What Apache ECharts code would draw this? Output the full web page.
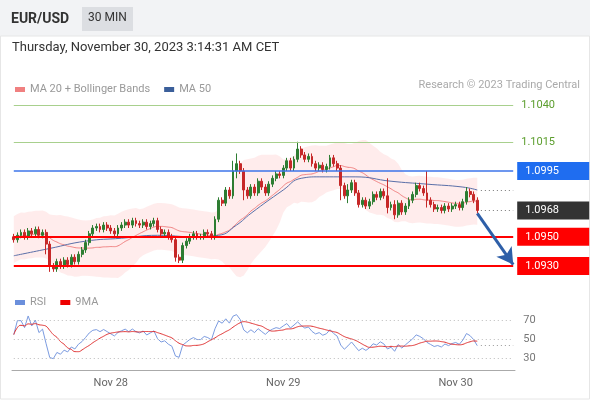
<!DOCTYPE html>
<html><head><meta charset="utf-8">
<script src="https://cdn.jsdelivr.net/npm/echarts@6/dist/echarts.min.js"></script>
<style>html,body{margin:0;padding:0;background:#fff}#c{width:590px;height:400px}</style>
</head><body><div id="c"></div>
<script>
const closes = [1.0948,1.0951,1.0953,1.0950,1.0954,1.0952,1.0955,1.0951,1.0953,1.0945,
1.0930,1.0928,1.0933,1.0930,1.0934,1.0931,1.0936,1.0933,1.0938,1.0941,
1.0946,1.0952,1.0956,1.0957,1.0955,1.0958,1.0956,1.0954,1.0952,1.0956,
1.0958,1.0960,1.0958,1.0961,1.0959,1.0958,1.0960,1.0957,1.0959,1.0961,
1.0955,1.0952,1.0953,1.0950,1.0948,1.0936,1.0934,1.0944,1.0947,1.0950,
1.0952,1.0950,1.0950,1.0953,1.0952,1.0950,1.0962,1.0975,1.0973,1.0982,
1.0978,1.0995,1.1000,1.0995,1.0982,1.0978,1.0984,1.0980,1.0988,1.0984,
1.0980,1.0986,1.0990,1.0993,1.0992,1.0997,1.1002,1.0997,1.1003,1.1010,
1.1006,1.1003,1.1005,1.1000,1.0997,1.0999,1.0996,1.0998,1.1004,1.1000,
1.0997,1.0985,1.0978,1.0982,1.0987,1.0980,1.0972,1.0975,1.0971,1.0974,
1.0979,1.0977,1.0981,1.0978,1.0970,1.0972,1.0965,1.0973,1.0967,1.0971,
1.0975,1.0979,1.0985,1.0983,1.0980,1.0975,1.0972,1.0969,1.0970,1.0968,
1.0971,1.0969,1.0971,1.0972,1.0970,1.0974,1.0981,1.0979,1.0975,1.0968];
const firstOpen = 1.0950;
const longWicks = {9:[1.0938,1.0954],10:[1.0926,1.0946],45:[1.0933,1.0949],47:[1.0933,1.0946],61:[1.0980,1.1002],62:[1.0990,1.1007],64:[1.0975,1.0997],79:[1.1002,1.1015],91:[1.0975,1.0999],93:[1.0973,1.0986],104:[1.0966,1.0990],106:[1.0962,1.0975],115:[1.0970,1.0995],126:[1.0972,1.0984]};
const ma50Points = {0:1.0937,10:1.0942,20:1.0947,30:1.0949,40:1.0951,50:1.0950,57:1.0951,62:1.0958,66:1.0966,75:1.0982,80:1.0990,85:1.0991,95:1.0991,105:1.0988,115:1.0986,125:1.0984,129:1.0982};
const levelsGreen = [1.1040,1.1015];
const levelsBlue = [1.0995];
const levelsRed = [1.0950,1.0930];
const rsiTicks = [30,50,70];
const lastPrice = 1.0968, ma50Last = 1.0982, target = 1.0931;
const xLabels = {27:'Nov 28',75:'Nov 29',123:'Nov 30'};
const NCAT = 140;

const cats = Array.from({length:NCAT},(_,i)=>String(i));
const ohlc = closes.map((c,i)=>{
  const o = i===0?firstOpen:closes[i-1];
  let lo = Math.min(o,c)-0.0002, hi = Math.max(o,c)+0.0002;
  if (longWicks[i]) { lo = Math.min(lo,longWicks[i][0]); hi = Math.max(hi,longWicks[i][1]); }
  return [o,c,lo,hi];
});
const ma50 = cats.map((_,i)=> ma50Points[i]!==undefined?ma50Points[i]:null);
const ma20=[],up=[],lw=[];
closes.forEach((c,i)=>{
  const w = closes.slice(Math.max(0,i-19),i+1);
  const m = w.reduce((a,b)=>a+b,0)/w.length;
  const sd = Math.sqrt(w.reduce((a,b)=>a+(b-m)*(b-m),0)/w.length);
  const s = Math.max(sd,0.0008);
  ma20.push(m); up.push(m+2*s); lw.push(m-2*s);
});
const bandW = up.map((u,i)=>u-lw[i]);
const rsi=[]; let ag=0, al=0;
closes.forEach((c,i)=>{
  if(i===0){rsi.push(55);return;}
  const d=c-closes[i-1]; const g=Math.max(d,0), l=Math.max(-d,0);
  if(i<=14){ag=(ag*(i-1)+g)/i; al=(al*(i-1)+l)/i;} else {ag=(ag*13+g)/14; al=(al*13+l)/14;}
  rsi.push(al===0?70:100-100/(1+ag/al));
});
const rsi9 = rsi.map((v,i)=>{const w=rsi.slice(Math.max(0,i-8),i+1);return w.reduce((a,b)=>a+b,0)/w.length;});
const rsiLast = rsi[rsi.length-1];

function tagLabel(bg,txt){return {show:true,position:'end',distance:4,formatter:txt,color:'#fff',backgroundColor:bg,padding:[4,8,3,8],fontSize:11,width:56,align:'left'};}
function pairLine(v,color,width,label){return [{coord:['0',v],lineStyle:{color:color,width:width,type:'solid',opacity:1},label:label},{coord:['139',v]}];}
const greenLab = v=>({show:true,position:'end',distance:8,formatter:v.toFixed(4),color:'#5c9e2e',fontSize:11});

const chart = echarts.init(document.getElementById('c'));
chart.setOption({
  animation:false,
  textStyle:{fontFamily:'Roboto'},
  graphic:[
    {type:'rect',shape:{x:0,y:0,width:590,height:36},style:{fill:'#f2f3f5'},z:-10},
    {type:'rect',shape:{x:0.5,y:36,width:589,height:363},style:{fill:'#fff',stroke:'#e6e6e6'},z:-10},
    {type:'rect',shape:{x:82,y:7,width:51,height:24},style:{fill:'#dcdee2'},z:-5},
    {type:'text',left:11,top:12,style:{text:'EUR/USD',font:'bold 14px Roboto',fill:'#333'}},
    {type:'text',left:88,top:12,style:{text:'30 MIN',font:'12px Roboto',fill:'#333'}},
    {type:'text',left:12,top:41,style:{text:'Thursday, November 30, 2023 3:14:31 AM CET',font:'13px Roboto',fill:'#333'}},
    {type:'text',right:10,top:80,style:{text:'Research © 2023 Trading Central',font:'11px Roboto',fill:'#aaa'}}
  ],
  legend:[
    {left:10,top:79,itemWidth:10,itemHeight:5,itemGap:14,icon:'rect',textStyle:{color:'#999',fontSize:11},data:[{name:'MA 20 + Bollinger Bands',itemStyle:{color:'#f08080'}},{name:'MA 50',itemStyle:{color:'#3b5f9a'}}]},
    {left:10,top:292,itemWidth:10,itemHeight:5,itemGap:14,icon:'rect',textStyle:{color:'#999',fontSize:11},data:[{name:'RSI',itemStyle:{color:'#6b8fdc'}},{name:'9MA',itemStyle:{color:'#e00'}}]}
  ],
  grid:[{left:12,top:95,width:503,height:190},{left:12,top:302,width:503,height:68}],
  xAxis:[
    {type:'category',data:cats,gridIndex:0,boundaryGap:true,axisLine:{show:false},axisTick:{show:false},axisLabel:{show:false},splitLine:{show:false}},
    {type:'category',data:cats,gridIndex:1,boundaryGap:true,axisLine:{show:true,lineStyle:{color:'#aaa',width:1}},axisTick:{show:false},
     axisLabel:{interval:0,formatter:(v)=>xLabels[v]||'',color:'#666',fontSize:11,margin:8},splitLine:{show:false}}
  ],
  yAxis:[
    {type:'value',gridIndex:0,min:1.0917,max:1.1047,show:false,splitLine:{show:false}},
    {type:'value',gridIndex:1,min:17,max:90,show:false,splitLine:{show:false}}
  ],
  series:[
    {name:'bandLow',type:'line',data:lw,stack:'bb',symbol:'none',lineStyle:{opacity:0},silent:true,z:1},
    {name:'bandW',type:'line',data:bandW,stack:'bb',symbol:'none',lineStyle:{opacity:0},areaStyle:{color:'rgba(255,120,120,0.2)'},silent:true,z:1},
    {name:'MA 20 + Bollinger Bands',type:'line',data:ma20,symbol:'none',smooth:true,lineStyle:{color:'#f08080',width:1},z:3},
    {name:'MA 50',type:'line',data:ma50,connectNulls:true,smooth:true,symbol:'none',lineStyle:{color:'#5a6fa8',width:1},z:3},
    {name:'levels',type:'line',data:[],z:2,
     markLine:{silent:true,symbol:'none',data:[
       pairLine(levelsGreen[0],'#a8d08d',1,greenLab(levelsGreen[0])),
       pairLine(levelsGreen[1],'#a8d08d',1,greenLab(levelsGreen[1])),
       pairLine(levelsBlue[0],'#3d74ea',1.5,tagLabel('#1f6df0',levelsBlue[0].toFixed(4))),
       pairLine(levelsRed[0],'#ff0000',2,tagLabel('#ff0000',levelsRed[0].toFixed(4))),
       pairLine(levelsRed[1],'#ff0000',2,tagLabel('#ff0000',levelsRed[1].toFixed(4))),
       [{coord:['130',ma50Last],lineStyle:{color:'#777',width:1,type:[1,3]},label:{show:false}},{coord:['139',ma50Last]}],
       [{coord:['130',lastPrice],lineStyle:{color:'#777',width:1,type:[1,3]},label:tagLabel('#333',lastPrice.toFixed(4))},{coord:['139',lastPrice]}],
       [{coord:['129',lastPrice-0.0002],symbol:'none',lineStyle:{color:'#2e5fa8',width:3,type:'solid'},label:{show:false}},{coord:['139',target],symbol:'arrow',symbolSize:[14,16]}]
     ]}},
    {name:'price',type:'candlestick',data:ohlc,barWidth:2.4,z:4,
     itemStyle:{color:'#2e7d32',color0:'#c62828',borderColor:'#2e7d32',borderColor0:'#c62828',borderWidth:1}},
    {name:'RSI',type:'line',xAxisIndex:1,yAxisIndex:1,data:rsi,symbol:'none',lineStyle:{color:'#7b9be0',width:1},
     markLine:{silent:true,symbol:'none',data:[
       ...rsiTicks.map(t=>[{coord:['0',t],lineStyle:{color:'#bbb',type:[1,3],width:1},label:{show:true,position:'end',distance:10,formatter:String(t),color:'#777',fontSize:11}},{coord:['139',t]}]),
       [{coord:['130',rsiLast],lineStyle:{color:'#999',type:[1,3],width:1},label:{show:false}},{coord:['139',rsiLast]}]]}},
    {name:'9MA',type:'line',xAxisIndex:1,yAxisIndex:1,data:rsi9,symbol:'none',smooth:true,lineStyle:{color:'#e03030',width:1}}
  ]
});
</script></body></html>
